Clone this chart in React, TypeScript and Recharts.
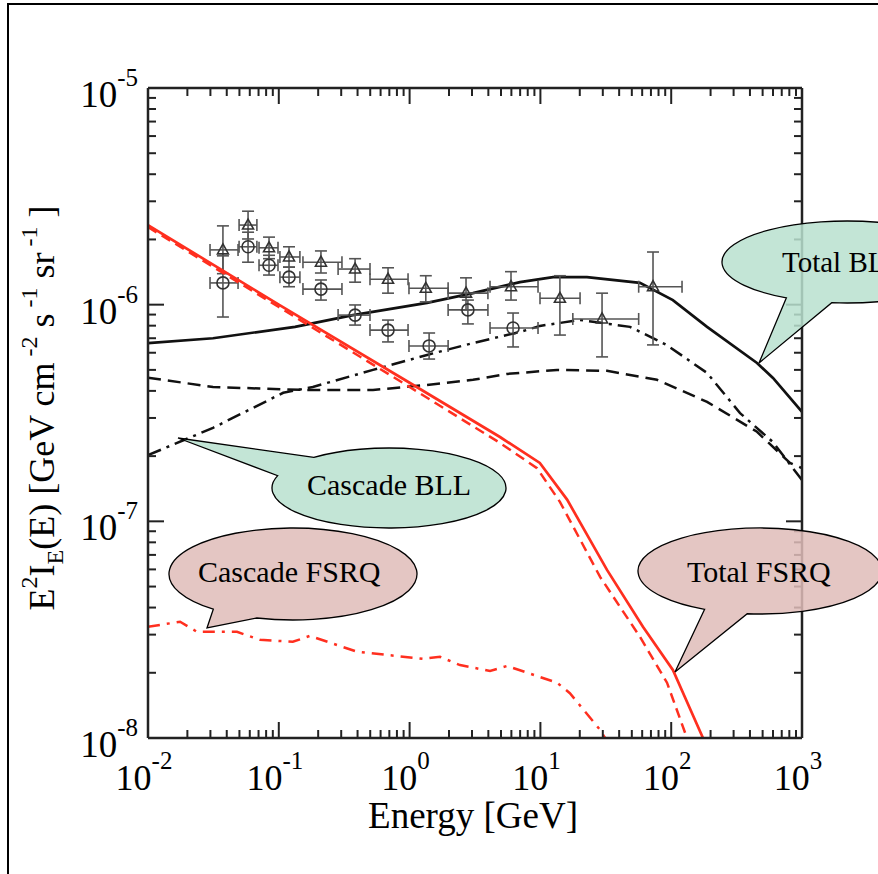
import { ComposedChart, Line, Scatter, ErrorBar, XAxis, YAxis } from "recharts";

// decades shown on the axes
const xDecades = [-2, -1, 0, 1, 2, 3];
const yDecades = [-8, -7, -6, -5];

// Total BLL (solid black)
const totalBllE = [0.01, 0.0314, 0.133, 0.369, 1.36, 3.05, 6.98, 12.5, 22.7, 57.7, 103, 188, 453, 600, 1000];
const totalBllF = [6.65e-7, 7.0e-7, 7.9e-7, 8.95e-7, 1.02e-6, 1.13e-6, 1.27e-6, 1.34e-6, 1.34e-6, 1.26e-6, 1.05e-6, 7.9e-7, 5.38e-7, 4.59e-7, 3.2e-7];

// primary BLL (dashed black)
const primBllE = [0.01, 0.0314, 0.153, 0.525, 1.36, 3.05, 5.56, 13.4, 32.3, 77.8, 188, 453, 809, 1000];
const primBllF = [4.6e-7, 4.17e-7, 4.04e-7, 4.04e-7, 4.26e-7, 4.5e-7, 4.79e-7, 5.0e-7, 4.95e-7, 4.5e-7, 3.56e-7, 2.59e-7, 1.86e-7, 1.76e-7];

// Cascade BLL (dash-dot black)
const cascBllE = [0.01, 0.0314, 0.108, 0.182, 0.525, 1.36, 3.05, 6.98, 9.9, 20.1, 48.4, 92.9, 188, 336, 600, 1000];
const cascBllF = [2.02e-7, 2.7e-7, 3.92e-7, 4.17e-7, 5.0e-7, 5.86e-7, 6.65e-7, 7.48e-7, 7.98e-7, 8.5e-7, 7.9e-7, 6.5e-7, 4.84e-7, 3.16e-7, 2.32e-7, 1.55e-7];

// Total FSRQ (solid red)
const totalFsrqE = [0.01, 0.1, 1, 4.91, 9.9, 16, 32.3, 60.8, 103, 175];
const totalFsrqF = [2.33e-6, 1.0e-6, 4.36e-7, 2.45e-7, 1.86e-7, 1.26e-7, 5.97e-8, 3.26e-8, 2.06e-8, 1.0e-8];

// primary FSRQ (dashed red)
const primFsrqE = [0.01, 0.1, 1, 4.91, 9.42, 14.1, 28.6, 57.7, 92.9, 132];
const primFsrqF = [2.28e-6, 9.75e-7, 4.17e-7, 2.3e-7, 1.76e-7, 1.23e-7, 5.54e-8, 2.93e-8, 1.8e-8, 1.0e-8];

// Cascade FSRQ (dash-dot red)
const cascFsrqE = [0.01, 0.0176, 0.0237, 0.0479, 0.0718, 0.128, 0.173, 0.397, 1.27, 1.71, 2.43, 4.12, 5.56, 13.4, 16.8, 28.6, 31.2];
const cascFsrqF = [3.26e-8, 3.44e-8, 3.09e-8, 3.09e-8, 2.84e-8, 2.78e-8, 2.96e-8, 2.5e-8, 2.32e-8, 2.37e-8, 2.17e-8, 2.04e-8, 2.15e-8, 1.8e-8, 1.61e-8, 1.09e-8, 1.0e-8];

// data points, triangles
const triE = [0.0374, 0.0582, 0.0842, 0.1197, 0.21, 0.383, 0.684, 1.33, 2.7, 5.96, 14.1, 29.6, 72.6];
const triF = [1.79e-6, 2.33e-6, 1.83e-6, 1.66e-6, 1.57e-6, 1.46e-6, 1.31e-6, 1.19e-6, 1.13e-6, 1.21e-6, 1.07e-6, 8.59e-7, 1.21e-6];
const triELo = [0.0298, 0.0497, 0.0706, 0.102, 0.153, 0.284, 0.498, 0.989, 1.97, 4.12, 9.93, 17.7, 56.4];
const triEHi = [0.0488, 0.068, 0.0986, 0.145, 0.304, 0.498, 0.973, 1.97, 3.97, 9.59, 20.1, 56.4, 121];
const triFLo = [1.39e-6, 2.01e-6, 1.63e-6, 1.49e-6, 1.4e-6, 1.27e-6, 1.13e-6, 1.03e-6, 9.46e-7, 1.05e-6, 7.24e-7, 5.74e-7, 6.52e-7];
const triFHi = [2.31e-6, 2.7e-6, 2.05e-6, 1.85e-6, 1.77e-6, 1.63e-6, 1.48e-6, 1.36e-6, 1.33e-6, 1.42e-6, 1.36e-6, 1.13e-6, 1.75e-6];

// data points, circles
const cirE = [0.0374, 0.0582, 0.0842, 0.1197, 0.21, 0.383, 0.684, 1.41, 2.79, 6.18];
const cirF = [1.26e-6, 1.85e-6, 1.52e-6, 1.34e-6, 1.18e-6, 8.95e-7, 7.63e-7, 6.45e-7, 9.46e-7, 7.8e-7];
const cirELo = [0.0298, 0.0497, 0.0706, 0.102, 0.153, 0.284, 0.498, 0.989, 1.97, 4.12];
const cirEHi = [0.0488, 0.068, 0.0986, 0.145, 0.304, 0.498, 0.973, 1.97, 3.97, 9.59];
const cirFLo = [8.77e-7, 1.57e-6, 1.37e-6, 1.21e-6, 1.05e-6, 8.05e-7, 6.73e-7, 5.61e-7, 8.15e-7, 6.38e-7];
const cirFHi = [1.68e-6, 2.16e-6, 1.69e-6, 1.49e-6, 1.3e-6, 9.97e-7, 8.49e-7, 7.4e-7, 1.05e-6, 9.15e-7];

const FONT = "'Liberation Serif', 'DejaVu Serif', serif";
const AXIS = "#222";
const RED = "#ff2f1f";
const BLACK = "#111";

const pairs = (xs: number[], ys: number[]) => xs.map((x, i) => ({ x, y: ys[i] }));
const withErr = (xs: number[], ys: number[], xl: number[], xh: number[], yl: number[], yh: number[]) =>
  xs.map((x, i) => ({ x, y: ys[i], ex: [x - xl[i], xh[i] - x], ey: [ys[i] - yl[i], yh[i] - ys[i]] }));

const minorTicks = (decades: number[]) => {
  const out: number[] = [];
  decades.forEach((d, i) => {
    if (i === decades.length - 1) {
      out.push(Math.pow(10, d));
      return;
    }
    for (let k = 1; k <= 9; k++) out.push(k * Math.pow(10, d));
  });
  return out;
};
const xTicks = minorTicks(xDecades);
const yTicks = minorTicks(yDecades);

const isMajor = (v: number) => {
  const l = Math.log10(v);
  return Math.abs(l - Math.round(l)) < 1e-6;
};
const expOf = (v: number) => String(Math.round(Math.log10(v)));

const BottomTick = (p: any) => {
  const major = isMajor(p.payload.value);
  return (
    <g>
      <line x1={p.x} y1={p.y} x2={p.x} y2={p.y - (major ? 16 : 8)} stroke={AXIS} strokeWidth={2} />
      {major && (
        <text x={p.x - 4} y={p.y + 52} textAnchor="middle" fontFamily={FONT} fontSize={36} fill="#000">
          10<tspan dy={-21} fontSize={25}>{expOf(p.payload.value)}</tspan>
        </text>
      )}
    </g>
  );
};
const TopTick = (p: any) => {
  const major = isMajor(p.payload.value);
  return <line x1={p.x} y1={p.y} x2={p.x} y2={p.y + (major ? 16 : 8)} stroke={AXIS} strokeWidth={2} />;
};
const LeftTick = (p: any) => {
  const major = isMajor(p.payload.value);
  return (
    <g>
      <line x1={p.x} y1={p.y} x2={p.x + (major ? 16 : 8)} y2={p.y} stroke={AXIS} strokeWidth={2} />
      {major && (
        <text x={p.x - 10} y={p.y + 19} textAnchor="end" fontFamily={FONT} fontSize={37} fill="#000">
          10<tspan dy={-21} fontSize={25}>{expOf(p.payload.value)}</tspan>
        </text>
      )}
    </g>
  );
};
const RightTick = (p: any) => {
  const major = isMajor(p.payload.value);
  return <line x1={p.x} y1={p.y} x2={p.x - (major ? 16 : 8)} y2={p.y} stroke={AXIS} strokeWidth={2} />;
};

const Triangle = (p: any) => {
  const { cx, cy } = p;
  return <path d={`M${cx},${cy - 6} L${cx + 5.5},${cy + 4} L${cx - 5.5},${cy + 4} Z`} fill="none" stroke="#333" strokeWidth={1.6} />;
};
const Circle = (p: any) => <circle cx={p.cx} cy={p.cy} r={6} fill="none" stroke="#333" strokeWidth={1.6} />;

// speech bubble: ellipse with a tail between angles a and b (degrees)
const bubble = (cx: number, cy: number, rx: number, ry: number, a: number, b: number, tx: number, ty: number) => {
  const pt = (t: number) => [cx + rx * Math.cos((t * Math.PI) / 180), cy + ry * Math.sin((t * Math.PI) / 180)];
  const [ax, ay] = pt(a);
  const [bx, by] = pt(b);
  return `M${ax},${ay} A${rx},${ry} 0 1 0 ${bx},${by} L${tx},${ty} Z`;
};
const GREEN = "#b9e0cf";
const PINK = "#dfbcb8";

const axisCommon = {
  type: "number" as const,
  scale: "log" as const,
  allowDataOverflow: true,
  interval: 0,
  tickSize: 0,
  tickMargin: 0,
  tickLine: false,
  axisLine: { stroke: AXIS, strokeWidth: 2.5 },
};

export default function App() {
  return (
    <div style={{ position: "absolute", left: 0, top: 0, width: 878, height: 874, overflow: "hidden", background: "#fff" }}>
      <ComposedChart width={878} height={874} margin={{ top: 87, right: 75, bottom: 135, left: 147 }}>
        <XAxis {...axisCommon} xAxisId="b" dataKey="x" domain={[0.01, 1000]} ticks={xTicks} height={1} tick={BottomTick} />
        <XAxis {...axisCommon} xAxisId="t" orientation="top" dataKey="x" domain={[0.01, 1000]} ticks={xTicks} height={1} tick={TopTick} />
        <YAxis {...axisCommon} yAxisId="l" domain={[1e-8, 1e-5]} ticks={yTicks} width={1} tick={LeftTick} />
        <YAxis {...axisCommon} yAxisId="r" orientation="right" domain={[1e-8, 1e-5]} ticks={yTicks} width={1} tick={RightTick} />
        <Line xAxisId="t" yAxisId="r" data={pairs(totalBllE, totalBllF)} dataKey="y" stroke="none" dot={false} activeDot={false} isAnimationActive={false} />

        <Line xAxisId="b" yAxisId="l" data={pairs(primBllE, primBllF)} dataKey="y" stroke={BLACK} strokeWidth={2.5} strokeDasharray="13 7" dot={false} activeDot={false} isAnimationActive={false} />
        <Line xAxisId="b" yAxisId="l" data={pairs(cascBllE, cascBllF)} dataKey="y" stroke={BLACK} strokeWidth={2.5} strokeDasharray="14 6 3 6" dot={false} activeDot={false} isAnimationActive={false} />
        <Line xAxisId="b" yAxisId="l" data={pairs(totalBllE, totalBllF)} dataKey="y" stroke={BLACK} strokeWidth={2.7} dot={false} activeDot={false} isAnimationActive={false} />

        <Scatter xAxisId="b" yAxisId="l" data={withErr(triE, triF, triELo, triEHi, triFLo, triFHi)} dataKey="y" shape={Triangle} isAnimationActive={false}>
          <ErrorBar dataKey="ex" direction="x" width={6} stroke="#555" strokeWidth={1.6} />
          <ErrorBar dataKey="ey" direction="y" width={6} stroke="#555" strokeWidth={1.6} />
        </Scatter>
        <Scatter xAxisId="b" yAxisId="l" data={withErr(cirE, cirF, cirELo, cirEHi, cirFLo, cirFHi)} dataKey="y" shape={Circle} isAnimationActive={false}>
          <ErrorBar dataKey="ex" direction="x" width={6} stroke="#555" strokeWidth={1.6} />
          <ErrorBar dataKey="ey" direction="y" width={6} stroke="#555" strokeWidth={1.6} />
        </Scatter>

        <Line xAxisId="b" yAxisId="l" data={pairs(primFsrqE, primFsrqF)} dataKey="y" stroke={RED} strokeWidth={2.5} strokeDasharray="10 6" dot={false} activeDot={false} isAnimationActive={false} />
        <Line xAxisId="b" yAxisId="l" data={pairs(cascFsrqE, cascFsrqF)} dataKey="y" stroke={RED} strokeWidth={2.5} strokeDasharray="12 7 3 7" dot={false} activeDot={false} isAnimationActive={false} />
        <Line xAxisId="b" yAxisId="l" data={pairs(totalFsrqE, totalFsrqF)} dataKey="y" stroke={RED} strokeWidth={2.7} dot={false} activeDot={false} isAnimationActive={false} />
      </ComposedChart>

      <svg width={878} height={874} style={{ position: "absolute", left: 0, top: 0, pointerEvents: "none" }}>
        <path d="M8,874 L8,4 L878,4" fill="none" stroke="#000" strokeWidth={2} />

        <text x={473} y={828} textAnchor="middle" fontFamily={FONT} fontSize={37}>Energy [GeV]</text>
        <text transform="translate(54,408) rotate(-90)" textAnchor="middle" fontFamily={FONT} fontSize={36}>
          E<tspan dy={-17} fontSize={24}>2</tspan>
          <tspan dy={17}>I</tspan>
          <tspan dy={9} fontSize={24}>E</tspan>
          <tspan dy={-9}>(E) [GeV cm</tspan>
          <tspan dy={-17} fontSize={24}> -2</tspan>
          <tspan dy={17}> s</tspan>
          <tspan dy={-17} fontSize={24}> -1</tspan>
          <tspan dy={17}> sr</tspan>
          <tspan dy={-17} fontSize={24}> -1</tspan>
          <tspan dy={17}> ]</tspan>
        </text>

        <path d={bubble(847, 262, 125, 41, 97, 119, 759, 363)} fill={GREEN} fillOpacity={0.85} stroke="#000" strokeWidth={1.3} />
        <text x={782} y={272} fontFamily={FONT} fontSize={29}>Total BLL</text>

        <path d={bubble(389, 488, 117, 40, 198, 230, 178, 438)} fill={GREEN} fillOpacity={0.85} stroke="#000" strokeWidth={1.3} />
        <text x={307} y={495} fontFamily={FONT} fontSize={30}>Cascade BLL</text>

        <path d={bubble(293, 574, 124, 46, 107, 130, 207, 628)} fill={PINK} fillOpacity={0.85} stroke="#000" strokeWidth={1.3} />
        <text x={198} y={582} fontFamily={FONT} fontSize={30}>Cascade FSRQ</text>

        <path d={bubble(760, 571, 122, 43, 96, 117, 675, 672)} fill={PINK} fillOpacity={0.85} stroke="#000" strokeWidth={1.3} />
        <text x={687} y={582} fontFamily={FONT} fontSize={30}>Total FSRQ</text>
      </svg>
    </div>
  );
}
